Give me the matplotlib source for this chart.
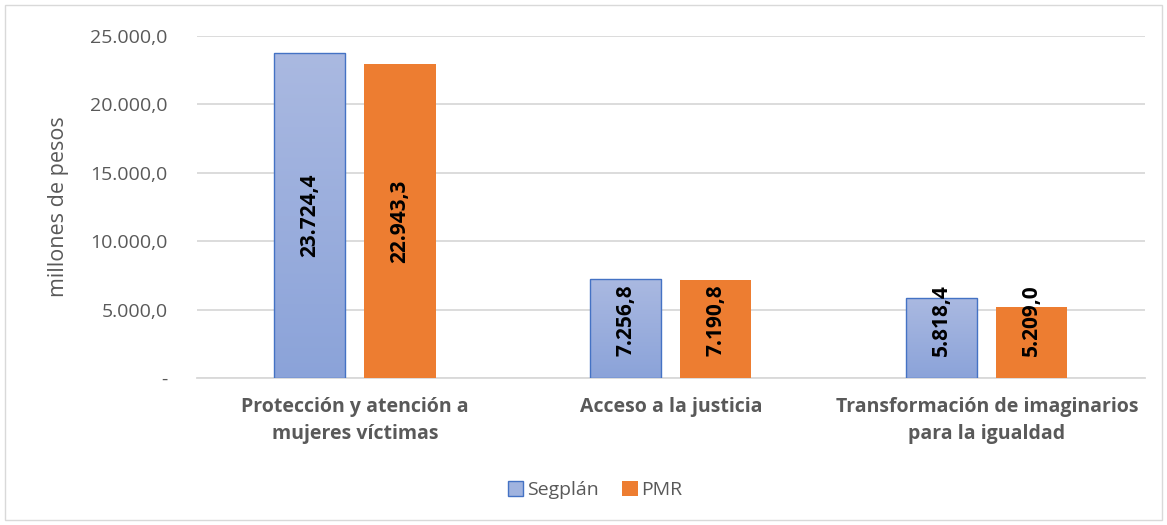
import numpy as np
import matplotlib
matplotlib.use("Agg")
import matplotlib.pyplot as plt
from matplotlib.patches import Rectangle, Patch
from matplotlib.colors import LinearSegmentedColormap

plt.rcParams["font.family"] = ["Open Sans", "DejaVu Sans"]

categories = ["Protección y atención a\nmujeres víctimas",
              "Acceso a la justicia",
              "Transformación de imaginarios\npara la igualdad"]
series_names = ["Segplán", "PMR"]
segplan = [23724.4, 7256.8, 5818.4]
pmr = [22943.3, 7190.8, 5209.0]
y_ticks = [0, 5000, 10000, 15000, 20000, 25000]


def fmt(v):
    if v == 0:
        return "-"
    s = f"{v:,.1f}"
    return s.replace(",", "X").replace(".", ",").replace("X", ".")


BLUE_EDGE = "#4472C4"
ORANGE = "#ED7D31"
GRAY = "#595959"
blue_grad = LinearSegmentedColormap.from_list("bg", ["#8BA3D9", "#AAB9E1"])

fig = plt.figure(figsize=(11.67, 5.25), dpi=100)
ax = fig.add_axes([0.1688, 0.28, 0.8122, 0.6514])

x = np.arange(len(categories))
w = 0.225
off = 0.1425

bars_s = ax.bar(x - off, segplan, w, color="#99AEDD", edgecolor=BLUE_EDGE, linewidth=1, zorder=3)
bars_p = ax.bar(x + off, pmr, w, color=ORANGE, edgecolor="none", zorder=3)

# vertical gradient on each Segplán bar (light top, darker bottom)
grad = np.linspace(0, 1, 256).reshape(-1, 1)
for b in bars_s:
    im = ax.imshow(grad, cmap=blue_grad, origin="lower", aspect="auto", zorder=3.5,
                   extent=[b.get_x(), b.get_x() + b.get_width(), 0, b.get_height()])
    im.set_clip_path(b)
    b.set_facecolor("none")
    b.set_zorder(4)

# data labels
for bars, vals in [(bars_s, segplan), (bars_p, pmr)]:
    for b, v in zip(bars, vals):
        ypos = max(v / 2, 4250)
        ax.text(b.get_x() + b.get_width() / 2, ypos, fmt(v), rotation=90,
                ha="center", va="center", fontsize=15, fontweight="bold",
                color="black", zorder=5)

ax.set_xlim(-0.5, 2.5)
ax.set_ylim(0, 25000)
ax.set_yticks(y_ticks)
ax.set_yticklabels([fmt(t) for t in y_ticks], fontsize=14, color=GRAY)
ax.set_xticks(x)
ax.set_xticklabels(categories, fontsize=14, fontweight="bold", color=GRAY, linespacing=1.45)
ax.tick_params(axis="both", length=0)
ax.tick_params(axis="y", pad=21)
ax.tick_params(axis="x", pad=14)
ax.grid(axis="y", color="#D9D9D9", linewidth=1.3, zorder=0)
ax.set_axisbelow(True)
for side in ["top", "right", "left"]:
    ax.spines[side].set_visible(False)
ax.spines["bottom"].set_color("#D9D9D9")
ax.spines["bottom"].set_linewidth(1.3)

ax.set_ylabel("millones de pesos", fontsize=15.5, color=GRAY)
ax.yaxis.set_label_coords(-0.135, 0.5)

handles = [Patch(facecolor="#A0B3DF", edgecolor=BLUE_EDGE, linewidth=1),
           Patch(facecolor=ORANGE, edgecolor="none")]
fig.legend(handles, series_names, loc="center", bbox_to_anchor=(0.51, 0.067), ncol=2,
           frameon=False, fontsize=14, labelcolor=GRAY, handlelength=0.8, handleheight=0.8,
           handletextpad=0.2, columnspacing=1.2)

fig.patches.append(Rectangle((5 / 1167, 5 / 525), 1157 / 1167, 515 / 525,
                             transform=fig.transFigure, fill=False,
                             edgecolor="#D9D9D9", linewidth=1))

fig.savefig("out.png", dpi=100)
